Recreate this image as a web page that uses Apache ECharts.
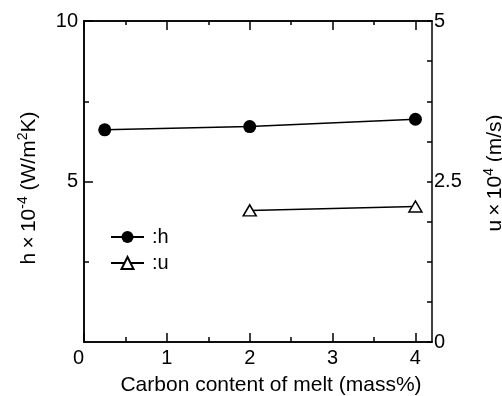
<!DOCTYPE html>
<html>
<head>
<meta charset="utf-8">
<script src="https://cdn.jsdelivr.net/npm/echarts@6/dist/echarts.min.js"></script>
<style>html,body{margin:0;padding:0;background:#fff}#c{width:502px;height:396px}</style>
</head>
<body>
<div id="c"></div>
<script>
// ---- data ----
const carbonH = [0.25, 2, 4];
const hValues = [6.61, 6.71, 6.94];
const carbonU = [2, 4];
const uValues = [2.05, 2.11];
const xTickLabels = [0, 1, 2, 3, 4];
const xMinorTicks = [0.5, 1.5, 2.5, 3.5];
const leftTickLabels = [5, 10];
const leftMinorTicks = [2.5, 7.5];
const rightTickLabels = [0, 2.5, 5];

const FONT = 'Liberation Sans';
const BLACK = '#000';

const chart = echarts.init(document.getElementById('c'), null, {renderer: 'canvas'});

const baseX = {
  type: 'value', min: 0, max: 4.2, interval: 1,
  axisLine: {show: true, onZero: false, lineStyle: {color: BLACK, width: 1.5}},
  splitLine: {show: false},
  axisLabel: {show: false},
  axisPointer: {show: false}
};
const baseY = {
  type: 'value',
  axisLine: {show: true, onZero: false, lineStyle: {color: BLACK, width: 1.5}},
  splitLine: {show: false},
  axisLabel: {show: false}
};

const option = {
  backgroundColor: '#fff',
  animation: false,
  textStyle: {fontFamily: FONT, color: BLACK},
  grid: {left: 84, right: 70, top: 21, bottom: 54, containLabel: false, outerBoundsMode: 'none'},
  legend: {
    orient: 'vertical', left: 105, top: 221,
    itemWidth: 33, itemHeight: 15, itemGap: 4,
    textStyle: {fontFamily: FONT, fontSize: 20, color: BLACK, lineHeight: 22, padding: [0, 0, 0, 3]},
    formatter: function (name) { return ':' + name; },
    data: ['h', 'u']
  },
  xAxis: [
    Object.assign({}, baseX, {
      position: 'bottom',
      name: 'Carbon content of melt (mass%)',
      nameLocation: 'middle', nameGap: 33,
      nameTextStyle: {fontFamily: FONT, fontSize: 21, color: BLACK, padding: [0, 0, 0, 26]},
      axisTick: {show: true, inside: true, length: 9, customValues: xTickLabels, lineStyle: {color: BLACK, width: 1.5}},
      axisLabel: {show: true, margin: 6, fontFamily: FONT, fontSize: 20, color: BLACK, customValues: xTickLabels,
        formatter: function (v) { return v === 0 ? '{z|0}' : String(v); },
        rich: {z: {fontFamily: FONT, fontSize: 20, color: BLACK, padding: [0, 11, 0, 0]}}}
    }),
    Object.assign({}, baseX, {
      position: 'bottom',
      axisTick: {show: true, inside: true, length: 5, customValues: xMinorTicks, lineStyle: {color: BLACK, width: 1.5}}
    }),
    Object.assign({}, baseX, {
      position: 'top',
      axisTick: {show: true, inside: true, length: 9, customValues: xTickLabels, lineStyle: {color: BLACK, width: 1.5}}
    }),
    Object.assign({}, baseX, {
      position: 'top',
      axisTick: {show: true, inside: true, length: 4, customValues: xMinorTicks, lineStyle: {color: BLACK, width: 1.5}}
    })
  ],
  yAxis: [
    Object.assign({}, baseY, {
      position: 'left', min: 0, max: 10, interval: 5,
      name: '{n|h\u2009×\u200910}{s|-4}{n| (W/m}{s|2}{n|K)}',
      nameLocation: 'middle', nameGap: 42, nameRotate: 90,
      nameTextStyle: {
        fontFamily: FONT, fontSize: 21, color: BLACK, padding: [0, 13, 0, 0],
        rich: {
          n: {fontFamily: FONT, fontSize: 21, color: BLACK},
          s: {fontFamily: FONT, fontSize: 14, color: BLACK, padding: [0, 0, 12, 0]}
        }
      },
      axisTick: {show: true, inside: true, length: 9, customValues: leftTickLabels, lineStyle: {color: BLACK, width: 1.5}},
      axisLabel: {show: true, margin: 6, fontFamily: FONT, fontSize: 20, color: BLACK, customValues: leftTickLabels}
    }),
    Object.assign({}, baseY, {
      position: 'left', min: 0, max: 10, interval: 2.5,
      axisTick: {show: true, inside: true, length: 5, customValues: leftMinorTicks, lineStyle: {color: BLACK, width: 1.5}}
    }),
    Object.assign({}, baseY, {
      position: 'right', min: 0, max: 5, interval: 0.625,
      name: '{n|u\u2009×\u200910}{s|4}{n| (m/s)}',
      nameLocation: 'middle', nameGap: 50, nameRotate: 90,
      nameTextStyle: {
        fontFamily: FONT, fontSize: 21, color: BLACK, padding: [0, 0, 0, 17],
        rich: {
          n: {fontFamily: FONT, fontSize: 21, color: BLACK},
          s: {fontFamily: FONT, fontSize: 14, color: BLACK, padding: [0, 0, 12, 0]}
        }
      },
      axisTick: {show: true, inside: true, length: 5, lineStyle: {color: BLACK, width: 1.5}},
      axisLabel: {show: true, margin: 2, fontFamily: FONT, fontSize: 20, color: BLACK, customValues: rightTickLabels,
        formatter: function (v) { return String(v); }}
    })
  ],
  series: [
    {
      name: 'h', type: 'line', xAxisIndex: 0, yAxisIndex: 0,
      data: carbonH.map(function (x, i) { return [x, hValues[i]]; }),
      symbol: 'circle', symbolSize: 13, showAllSymbol: true,
      lineStyle: {color: BLACK, width: 1.5},
      itemStyle: {color: BLACK, borderColor: BLACK, borderWidth: 0},
      emphasis: {disabled: true}, z: 3
    },
    {
      name: 'u', type: 'line', xAxisIndex: 0, yAxisIndex: 2,
      data: carbonU.map(function (x, i) { return [x, uValues[i]]; }),
      symbol: 'triangle', symbolSize: [13, 11], showAllSymbol: true,
      lineStyle: {color: BLACK, width: 1.5},
      itemStyle: {color: '#fff', borderColor: BLACK, borderWidth: 1.5},
      emphasis: {disabled: true}, z: 3
    }
  ]
};
chart.setOption(option);
</script>
</body>
</html>
